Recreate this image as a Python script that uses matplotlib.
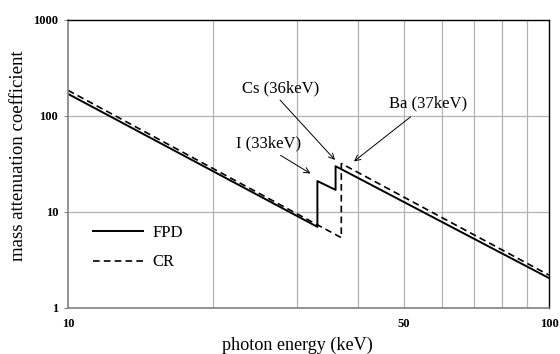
import numpy as np
import matplotlib.pyplot as plt
from matplotlib.lines import Line2D

# data
fpd_energy = [10, 33, 33, 36, 36, 100]
fpd_mu = [170, 7.0, 21, 17, 30, 2.05]
cr_energy = [10, 37, 37, 100]
cr_mu = [185, 5.4, 32, 2.2]

x_ticks = [10, 50, 100]
x_grid = [20, 30, 40, 50, 60, 70, 80, 90]
y_ticks = [1, 10, 100, 1000]

plt.rcParams['font.family'] = ['Liberation Serif', 'DejaVu Serif']

fig = plt.figure(figsize=(5.6, 3.54), dpi=100)
ax = fig.add_axes([68/560, 1 - 308/354, 481/560, 288/354])

ax.set_xscale('log')
ax.set_yscale('log')
ax.set_xlim(10, 100)
ax.set_ylim(1, 1000)

for g in x_grid:
    ax.axvline(g, color='#b3b3b3', lw=0.9, zorder=0)
for g in [10, 100]:
    ax.axhline(g, color='#b3b3b3', lw=0.9, zorder=0)

ax.plot(fpd_energy, fpd_mu, color='black', lw=1.4, ls='-')
ax.plot(cr_energy, cr_mu, color='black', lw=1.2, ls=(0, (4, 2.5)))

ax.minorticks_off()
ax.set_xticks(x_ticks)
ax.set_xticklabels([str(v) for v in x_ticks], fontweight='bold', fontsize=9)
ax.set_yticks(y_ticks)
ax.set_yticklabels([str(v) for v in y_ticks], fontweight='bold', fontsize=9)
ax.tick_params(axis='x', length=0, pad=7)
ax.tick_params(axis='y', length=3, color='#808080', pad=4)

for s in ['left', 'bottom']:
    ax.spines[s].set_color('#808080')
    ax.spines[s].set_linewidth(1.2)
for s in ['top', 'right']:
    ax.spines[s].set_color('black')
    ax.spines[s].set_linewidth(1.0)

# axis titles placed like the source chart
fig.text(297.5/560, 1 - 345/354, 'photon energy (keV)', ha='center', va='center', fontsize=13.1)
fig.text(19/560, 1 - 156/354, 'mass attenuation coefficient', ha='center', va='center',
         rotation=90, fontsize=13.5)

arrow = dict(arrowstyle='->', color='black', lw=0.7)
tf = ax.transAxes
ax.text(0.443, 0.764, 'Cs (36keV)', transform=tf, ha='center', va='center', fontsize=12)
ax.annotate('', xy=(0.559, 0.507), xytext=(0.437, 0.729), xycoords=tf, textcoords=tf, arrowprops=arrow)
ax.text(0.748, 0.712, 'Ba (37keV)', transform=tf, ha='center', va='center', fontsize=12)
ax.annotate('', xy=(0.590, 0.503), xytext=(0.717, 0.670), xycoords=tf, textcoords=tf, arrowprops=arrow)
ax.text(0.416, 0.573, 'I (33keV)', transform=tf, ha='center', va='center', fontsize=12)
ax.annotate('', xy=(0.509, 0.462), xytext=(0.437, 0.535), xycoords=tf, textcoords=tf, arrowprops=arrow)

handles = [Line2D([], [], color='black', lw=1.4),
           Line2D([], [], color='black', lw=1.2, ls=(0, (4, 2.5)))]
ax.legend(handles, ['FPD', 'CR'], loc='upper left', bbox_to_anchor=(0.02, 0.34),
          frameon=False, fontsize=12, handlelength=3.0, handletextpad=0.6,
          labelspacing=0.8)

fig.savefig('out.png', dpi=100)
